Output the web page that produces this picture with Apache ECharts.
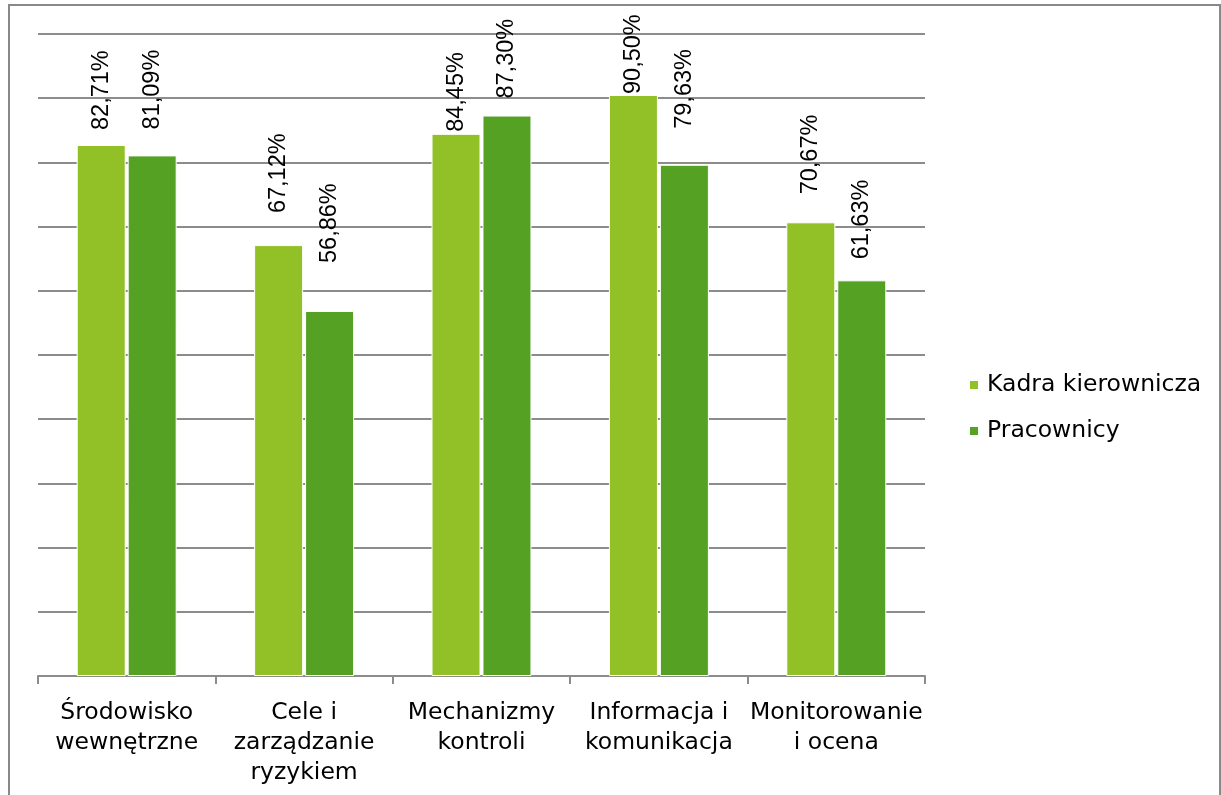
<!DOCTYPE html>
<html>
<head>
<meta charset="utf-8">
<script src="https://cdn.jsdelivr.net/npm/echarts@6/dist/echarts.min.js"></script>
<style>
html,body{margin:0;padding:0;background:#fff;}
#c{width:1221px;height:795px;}
</style>
</head>
<body>
<div id="c"></div>
<script>
const categories = ['Środowisko\nwewnętrzne', 'Cele i\nzarządzanie\nryzykiem', 'Mechanizmy\nkontroli', 'Informacja i\nkomunikacja', 'Monitorowanie\ni ocena'];
const seriesNames = ['Kadra kierownicza', 'Pracownicy'];
const kadra = [82.71, 67.12, 84.45, 90.50, 70.67];
const pracownicy = [81.09, 56.86, 87.30, 79.63, 61.63];
const colors = ['#92C027', '#55A124'];

// label placement (style only): distance of each value label above its bar
const labelDist = [
  [15, 32, 2, 1, 28],
  [26, 48, 17, 36, 21]
];

const chart = echarts.init(document.getElementById('c'));
function labelCfg(dist) {
  return {
    show: true,
    position: 'top',
    rotate: 90,
    align: 'left',
    verticalAlign: 'middle',
    distance: dist,
    fontFamily: 'Liberation Sans, Arial, sans-serif',
    fontSize: 23.5,
    color: '#000',
    formatter: p => p.value.toFixed(2).replace('.', ',') + '%'
  };
}
function buildData(values, s) {
  return values.map((v, i) => ({ value: v, label: labelCfg(labelDist[s][i]) }));
}
chart.setOption({
  animation: false,
  color: colors,
  graphic: [{
    type: 'rect',
    shape: { x: 9, y: 5, width: 1211, height: 800 },
    style: { fill: 'none', stroke: '#898989', lineWidth: 2 },
    silent: true
  }],
  legend: {
    orient: 'vertical',
    left: 963,
    top: 368,
    itemWidth: 10,
    itemHeight: 10,
    itemGap: 22,
    icon: 'rect',
    textStyle: { fontFamily: 'DejaVu Sans, sans-serif', fontSize: 23.5, color: '#000', padding: [0, 0, 0, 3] },
    data: seriesNames
  },
  grid: { left: 38, right: 296, top: 34, bottom: 119 },
  xAxis: {
    type: 'category',
    data: categories,
    axisLine: { lineStyle: { color: '#8c8c8c', width: 2 } },
    axisTick: { show: true, length: 8, interval: 0, lineStyle: { color: '#8c8c8c', width: 2 } },
    axisLabel: {
      interval: 0,
      margin: 22,
      fontFamily: 'DejaVu Sans, sans-serif',
      fontSize: 23.5,
      lineHeight: 30,
      color: '#000'
    }
  },
  yAxis: {
    type: 'value',
    min: 0,
    max: 100,
    interval: 10,
    axisLine: { show: false },
    axisTick: { show: false },
    axisLabel: { show: false },
    splitLine: { lineStyle: { color: '#8c8c8c', width: 2 } }
  },
  series: [
    { name: seriesNames[0], type: 'bar', data: buildData(kadra, 0), barWidth: 49, barGap: '4%',
      itemStyle: { borderColor: '#fff', borderWidth: 1 }, label: labelCfg(15) },
    { name: seriesNames[1], type: 'bar', data: buildData(pracownicy, 1), barWidth: 49, barGap: '4%',
      itemStyle: { borderColor: '#fff', borderWidth: 1 }, label: labelCfg(15) }
  ]
});
</script>
</body>
</html>
